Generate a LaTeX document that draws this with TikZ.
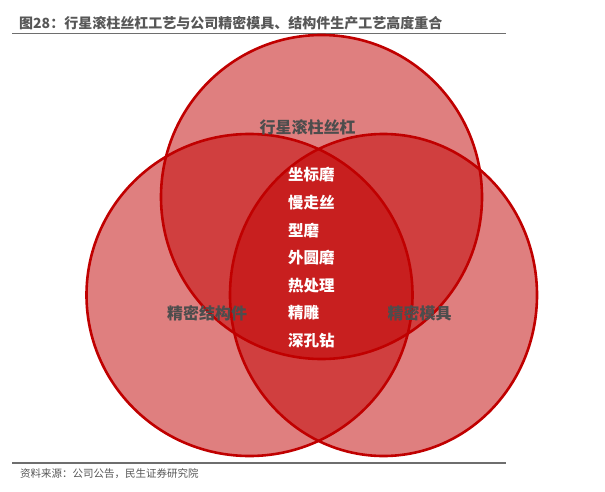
\documentclass[tikz,border=0pt]{standalone}
\usepackage{fontspec}
\setmainfont{Noto Sans CJK SC}
\usetikzlibrary{positioning}
\definecolor{vennred}{HTML}{C00000}
\definecolor{labelgray}{HTML}{4D4D4D}
\definecolor{titlegray}{HTML}{575757}
\definecolor{rulegray}{HTML}{6E6E6E}

\begin{document}
\begin{tikzpicture}[x=1pt, y=-1pt,
  venn/.style={draw=vennred, line width=2.6pt, fill=vennred, fill opacity=0.5},
  setlabel/.style={text=labelgray, inner sep=0pt,
    font=\fontsize{16}{16}\selectfont\bfseries},
  steplabel/.style={text=white, anchor=west, inner sep=0pt,
    font=\fontsize{15.5}{15.5}\selectfont\bfseries}]
  \useasboundingbox (0,0) rectangle (605,492);

  %% Title and rules
  \node[anchor=west, inner sep=0pt, text=titlegray,
    font=\fontsize{14}{14}\selectfont\bfseries] (title) at (19,23.5)
    {图28：行星滚柱丝杠工艺与公司精密模具、结构件生产工艺高度重合};
  \draw[rulegray, line width=1pt] (12,34) -- (506,34);
  \draw[rulegray, line width=2pt] (12,463) -- (506,463);
  \node[anchor=west, inner sep=0pt, text=titlegray,
    font=\fontsize{10.5}{10.5}\selectfont] (source) at (20,474)
    {资料来源：公司公告，民生证券研究院};

  %% Three sets
  \draw[venn] (321.5,197) ellipse [x radius=160.5pt, y radius=162pt];
  \draw[venn] (249.5,295) ellipse [x radius=163pt, y radius=161pt];
  \draw[venn] (383.5,295) ellipse [x radius=153.5pt, y radius=161pt];

  %% Set names
  \node[setlabel] (screw)  at (307.5,127) {行星滚柱丝杠};
  \node[setlabel] (struct) at (207,313)   {精密结构件};
  \node[setlabel] (mould)  at (419.5,313) {精密模具};

  %% Shared processes (centre)
  \foreach \i/\y/\lbl in {1/175/坐标磨, 2/203/慢走丝, 3/230.5/型磨,
      4/258/外圆磨, 5/286/热处理, 6/313/精雕, 7/341/深孔钻}{
    \node[steplabel] (s\i) at (288,\y) {\lbl};
  }
\end{tikzpicture}
\end{document}
